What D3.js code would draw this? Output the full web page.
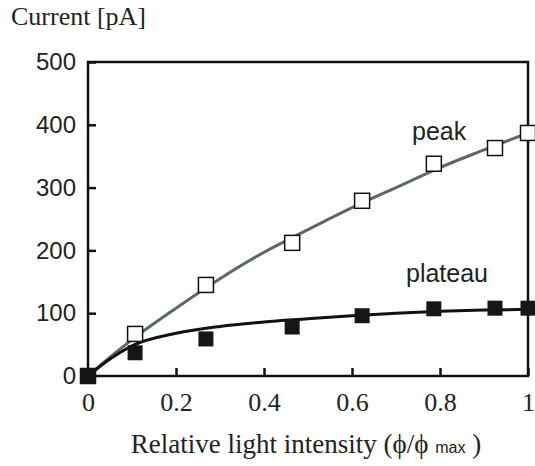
<!DOCTYPE html>
<html>
<head>
<meta charset="utf-8">
<script src="https://cdn.jsdelivr.net/npm/d3@7"></script>
<style>
  body { margin: 0; background: #fff; }
  svg { display: block; }
</style>
</head>
<body>
<div id="root"></div>
<script>
// measured points
const lightX = [0, 0.107, 0.268, 0.464, 0.623, 0.786, 0.925, 1.0];
const peakValues = [0, 67, 145, 212, 279, 338, 363, 387];
const plateauValues = [0, 37, 59, 78, 96, 107, 108, 108];

// fitted curves
const fitX = [0, 0.05, 0.1, 0.2, 0.3, 0.4, 0.5, 0.6, 0.7, 0.8, 0.9, 1.0];
const peakFitY = [0, 30, 58, 108, 155, 197, 233, 268, 300, 332, 360, 387];
const plateauFitY = [0, 27, 48, 68, 79, 86, 91, 96, 100, 103, 105, 106];

const xTicks = [0, 0.2, 0.4, 0.6, 0.8, 1];
const yTicks = [0, 100, 200, 300, 400, 500];

const margin = { top: 62, right: 7, bottom: 90, left: 88 };
const outerWidth = 535;
const outerHeight = 466;
const width = outerWidth - margin.left - margin.right;
const height = outerHeight - margin.top - margin.bottom;

let scaleX = d3.scaleLinear().domain([0, 1]).range([0, width]);
let scaleY = d3.scaleLinear().domain([0, 500]).range([height, 0]);

let svg = d3.select("#root")
            .append("svg")
            .attr("width", outerWidth)
            .attr("height", outerHeight);

let chart = svg.append("g")
               .attr("transform", `translate(${margin.left}, ${margin.top})`);

let yAxis = d3.axisLeft(scaleY)
              .tickValues(yTicks)
              .tickSizeInner(-8)
              .tickSizeOuter(0)
              .tickPadding(12);
let xAxis = d3.axisBottom(scaleX)
              .tickValues(xTicks)
              .tickSizeInner(-8)
              .tickSizeOuter(0)
              .tickPadding(17)
              .tickFormat(d => d);

let gy = chart.append("g").attr("class", "y axis").call(yAxis);
gy.select(".domain").remove();
gy.selectAll("line").attr("stroke", "#111").attr("stroke-width", 2.5);
gy.selectAll("text")
  .attr("fill", "#222")
  .style("font-family", "'Liberation Sans', Arial, sans-serif")
  .style("font-size", "24px");

let gx = chart.append("g").attr("class", "x axis")
              .attr("transform", `translate(0, ${height})`)
              .call(xAxis);
gx.select(".domain").remove();
gx.selectAll("line").attr("stroke", "#111").attr("stroke-width", 2.5);
gx.selectAll("text")
  .attr("fill", "#222")
  .style("font-family", "'Liberation Serif', 'Times New Roman', serif")
  .style("font-size", "26px");

chart.append("rect")
     .attr("width", width)
     .attr("height", height)
     .attr("fill", "none")
     .attr("stroke", "#111")
     .attr("stroke-width", 2.5);

let line = d3.line()
             .x(d => scaleX(d[0]))
             .y(d => scaleY(d[1]))
             .curve(d3.curveMonotoneX);

chart.append("path")
     .datum(fitX.map((x, i) => [x, peakFitY[i]]))
     .attr("d", line)
     .attr("fill", "none")
     .attr("stroke", "#5b6866")
     .attr("stroke-width", 3);

chart.append("path")
     .datum(fitX.map((x, i) => [x, plateauFitY[i]]))
     .attr("d", line)
     .attr("fill", "none")
     .attr("stroke", "#111")
     .attr("stroke-width", 3);

const box = 15;

chart.selectAll(".peak")
     .data(lightX.map((x, i) => [x, peakValues[i]]))
     .enter().append("rect")
     .attr("class", "peak")
     .attr("x", d => scaleX(d[0]) - box / 2)
     .attr("y", d => scaleY(d[1]) - box / 2)
     .attr("width", box)
     .attr("height", box)
     .attr("fill", "#fff")
     .attr("stroke", "#111")
     .attr("stroke-width", 1.5);

chart.selectAll(".plateau")
     .data(lightX.map((x, i) => [x, plateauValues[i]]))
     .enter().append("rect")
     .attr("class", "plateau")
     .attr("x", d => scaleX(d[0]) - box / 2)
     .attr("y", d => scaleY(d[1]) - box / 2)
     .attr("width", box)
     .attr("height", box)
     .attr("fill", "#161616");

// series labels
chart.append("text")
     .attr("x", 324)
     .attr("y", 78)
     .style("font-family", "'Liberation Sans', Arial, sans-serif")
     .style("font-size", "25px")
     .attr("fill", "#222")
     .text("peak");

chart.append("text")
     .attr("x", 318)
     .attr("y", 220)
     .style("font-family", "'Liberation Sans', Arial, sans-serif")
     .style("font-size", "25px")
     .attr("fill", "#222")
     .text("plateau");

// axis titles
svg.append("text")
   .attr("x", 11)
   .attr("y", 25)
   .style("font-family", "'Liberation Serif', 'Times New Roman', serif")
   .style("font-size", "26px")
   .attr("fill", "#222")
   .text("Current [pA]");

let xLabel = svg.append("text")
   .attr("x", margin.left + width / 2 - 2)
   .attr("y", 453)
   .attr("text-anchor", "middle")
   .style("font-family", "'Liberation Serif', 'DejaVu Serif', 'Times New Roman', serif")
   .style("font-size", "27px")
   .attr("fill", "#222");
xLabel.append("tspan").text("Relative light intensity (\u03d5/\u03d5 ");
xLabel.append("tspan")
      .style("font-family", "'Liberation Sans', Arial, sans-serif")
      .style("font-size", "16px")
      .text("max");
xLabel.append("tspan").text(" )");
</script>
</body>
</html>
